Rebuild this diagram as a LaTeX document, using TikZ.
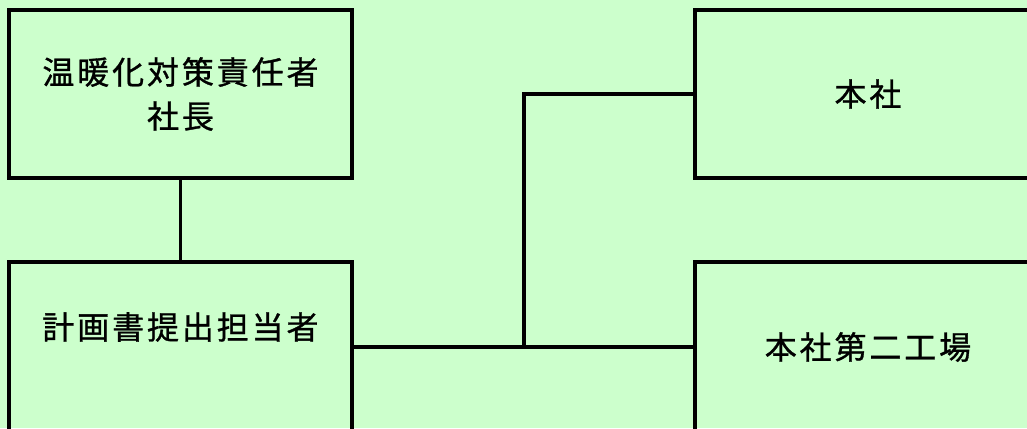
\documentclass[tikz,border=0pt]{standalone}
\usepackage{fontspec}
\newfontfamily\jpfont[LetterSpace=9,FakeBold=1]{Noto Sans CJK JP}
\usetikzlibrary{positioning}
\definecolor{bggreen}{HTML}{CCFFCC}

\begin{document}
\begin{tikzpicture}[x=1pt,y=-1pt,line width=3.2pt,
	box/.style={draw,inner sep=0pt,outer sep=0pt,minimum width=343pt,minimum height=168pt,align=center,font=\fontsize{32}{44}\selectfont\jpfont},
	lbl/.style={inner sep=0pt,font=\fontsize{32}{44}\selectfont\jpfont}]
	\fill[bggreen] (0,0) rectangle (1027,428);
	\useasboundingbox (0,0) rectangle (1027,428);
	\begin{scope}
	\clip (0,0) rectangle (1027,428);
	\node[box](boss) at (180.5,94) {温暖化対策責任者\\社長};
	\node[box,minimum height=170pt](plan) at (180.5,347) {};
	\node[lbl](planlbl) at ([yshift=20pt]plan.center) {計画書提出担当者};
	\node[box,minimum width=346pt](hq) at (868,94) {本社};
	\node[box,minimum width=346pt,minimum height=170pt](site2) at (868,347) {本社第二工場};
	\coordinate (fork) at (524,347);
	\draw (boss.south) -- (plan.north);
	\draw (plan.east) -- (site2.west);
	\draw (fork) |- (hq.west);
	\end{scope}
\end{tikzpicture}
\end{document}
